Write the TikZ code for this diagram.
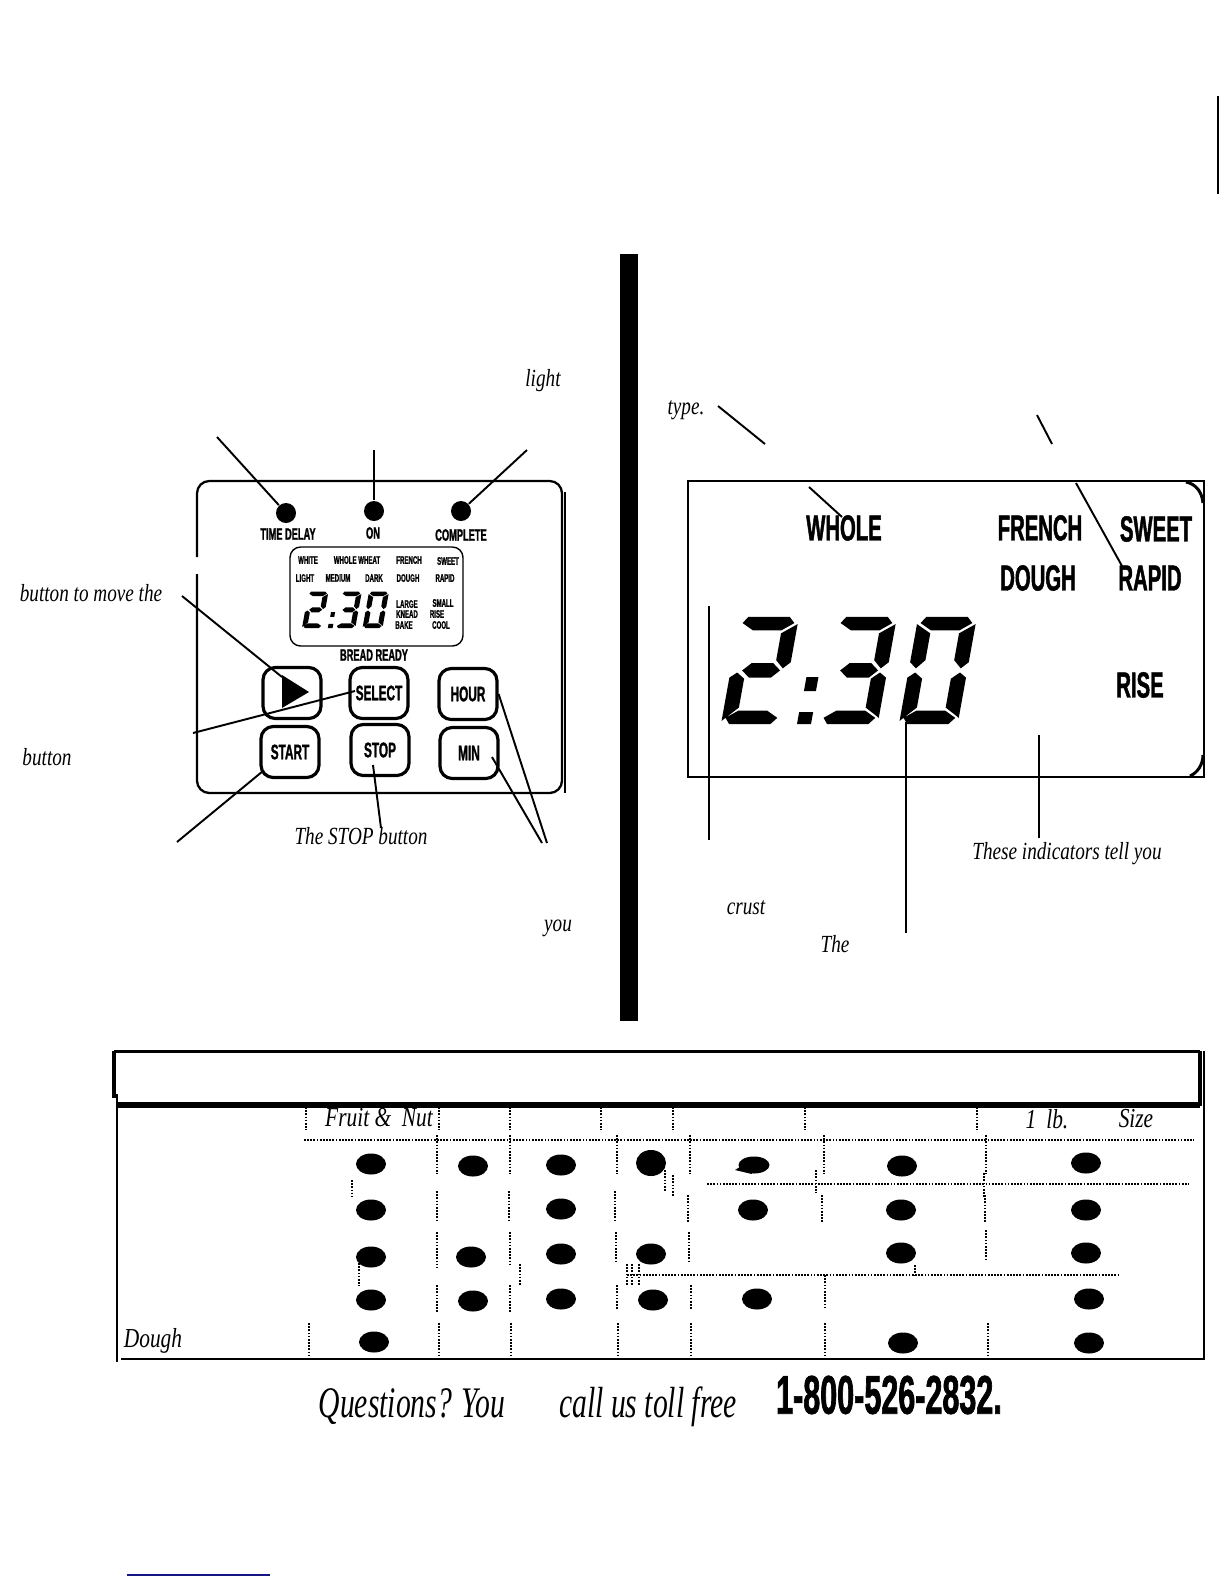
\documentclass[tikz,border=0pt]{standalone}
\usepackage{fontspec}
\setmainfont{Liberation Serif}
\newfontfamily\notefont[FakeStretch=.78]{Liberation Serif}
\newfontfamily\footfont[FakeStretch=.68]{Liberation Serif}
\newfontfamily\panelfont[FakeStretch=.56, BoldFeatures={FakeBold=1.2}]{Liberation Sans}
\usetikzlibrary{shapes.geometric}
\usepackage{xcolor}
\definecolor{footrule}{RGB}{20, 20, 130}

% segments of one clock digit, baseline at y = 0
\newcommand{\segA}{(7,-104) -- (43,-104) -- (48,-98) -- (38,-91) -- (13,-91) -- (3,-98) -- cycle}
\newcommand{\segB}{(51,-97) -- (38,-88) -- (38,-62) -- (45,-54) -- (51,-60) -- cycle}
\newcommand{\segC}{(51,-45) -- (45,-50) -- (38,-44) -- (38,-16) -- (51,-6) -- cycle}
\newcommand{\segD}{(3,-6) -- (13,-13) -- (38,-13) -- (48,-6) -- (43,0) -- (7,0) -- cycle}
\newcommand{\segE}{(0,-45) -- (6,-50) -- (13,-44) -- (13,-16) -- (0,-3) -- cycle}
\newcommand{\segF}{(0,-97) -- (13,-88) -- (13,-62) -- (6,-54) -- (0,-60) -- cycle}
\newcommand{\segG}{(10,-52) -- (17,-59) -- (36,-59) -- (43,-52) -- (36,-45) -- (17,-45) -- cycle}
\newcommand{\digitTwo}{\segA \segB \segG \segE \segD}
\newcommand{\digitThree}{\segA \segB \segG \segC \segD}
\newcommand{\digitZero}{\segA \segB \segC \segD \segE \segF}

\tikzset{
  pics/clock/.style={code={
    \begin{scope}[xslant=.18]
      \fill[xscale=1.15, yscale=1.03] \digitTwo;
      \fill[shift={(98,0)}, xscale=1.15, yscale=1.03] \digitThree;
      \fill[shift={(178,0)}, xscale=1.15, yscale=1.03] \digitZero;
      \fill (77,-47) rectangle (89,-33);
      \fill (76,-12) rectangle (90,0);
    \end{scope}
  }}
}

\begin{document}
\begin{tikzpicture}[x=.01cm, y=-.01cm,
    note/.style={font=\notefont\itshape\fontsize{7}{8}\selectfont, inner sep=0pt},
    tablehead/.style={font=\notefont\itshape\fontsize{7.8}{8}\selectfont, inner sep=0pt},
    bigtext/.style={font=\footfont\itshape\fontsize{12.4}{13}\selectfont, inner sep=0pt},
    lcdword/.style={font=\panelfont\bfseries\fontsize{10.3}{11}\selectfont, inner sep=0pt},
    paneltag/.style={font=\panelfont\bfseries\fontsize{4.7}{5}\selectfont, inner sep=0pt},
    tinytag/.style={font=\panelfont\bfseries\fontsize{3.1}{3.2}\selectfont, inner sep=0pt},
    keybtn/.style={draw, line width=.9pt, rounded corners=3.5pt, minimum width=.58cm, minimum height=.51cm,
      inner sep=0pt, font=\panelfont\bfseries\fontsize{6}{7}\selectfont},
    led/.style={circle, fill=black, minimum size=.2cm, inner sep=0pt},
    blob/.style={ellipse, fill=black, minimum width=.3cm, minimum height=.21cm, inner sep=0pt},
    leader/.style={line width=.55pt},
    panelline/.style={line width=.65pt},
    tabledots/.style={line width=.7pt, dash pattern=on .5pt off .4pt}]
  \useasboundingbox (0,0) rectangle (1224,1584);

  % margin bar and middle bar
  \coordinate (barTop) at (1218,96);
  \coordinate (barEnd) at (1218,194);
  \draw[line width=.6pt] (barTop) -- (barEnd);
  \fill (620,254) rectangle (638,1021);

  % control panel
  \draw[panelline, rounded corners=3.5pt] (197,557) -- (197,481) -- (562,481) -- (562,793) -- (197,793) -- (197,574);
  \draw[panelline] (565,492) -- (565,793);

  \node[led] (ledDelay) at (286,513) {};
  \node[led] (ledOn) at (374,511) {};
  \node[led] (ledDone) at (461,511) {};
  \node[paneltag] (tagDelay) at (288,534) {TIME DELAY};
  \node[paneltag] (tagOn) at (373,533) {ON};
  \node[paneltag] (tagDone) at (461,535) {COMPLETE};

  % small display
  \draw[line width=.4pt, rounded corners=3pt] (290,547) rectangle (463,646);
  \node[tinytag] (miniWhite) at (308,560) {WHITE};
  \node[tinytag] (miniWheat) at (357,560) {WHOLE WHEAT};
  \node[tinytag] (miniFrench) at (409,560) {FRENCH};
  \node[tinytag] (miniSweet) at (448,561) {SWEET};
  \node[tinytag] (miniLight) at (305,578) {LIGHT};
  \node[tinytag] (miniMedium) at (338,578) {MEDIUM};
  \node[tinytag] (miniDark) at (374,578) {DARK};
  \node[tinytag] (miniDough) at (408,578) {DOUGH};
  \node[tinytag] (miniRapid) at (445,578) {RAPID};
  \node[tinytag] (miniLarge) at (407,604) {LARGE};
  \node[tinytag] (miniKnead) at (407,614) {KNEAD};
  \node[tinytag] (miniBake) at (404,625) {BAKE};
  \node[tinytag] (miniSmall) at (443,603) {SMALL};
  \node[tinytag] (miniRise) at (437,614) {RISE};
  \node[tinytag] (miniCool) at (441,625) {COOL};
  \pic[scale=.34] (miniClock) at (302,628) {clock};
  \node[paneltag] (tagReady) at (374,655) {BREAD READY};

  % buttons
  \node[keybtn] (btnArrow) at (292,693) {};
  \fill (282,675) -- (309,692) -- (282,708) -- cycle;
  \node[keybtn] (btnSelect) at (379,693) {SELECT};
  \node[keybtn] (btnHour) at (468,694) {HOUR};
  \node[keybtn] (btnStart) at (290,752) {START};
  \node[keybtn] (btnStop) at (380,750) {STOP};
  \node[keybtn] (btnMin) at (469,753) {MIN};

  % leaders of the panel
  \coordinate (endDelay) at (217,437);
  \coordinate (endOn) at (374,450);
  \coordinate (endDone) at (527,450);
  \coordinate (endArrow) at (182,596);
  \coordinate (tipArrow) at (282,677);
  \coordinate (endSelect) at (193,733);
  \coordinate (tipSelect) at (355,691);
  \coordinate (endStart) at (177,842);
  \coordinate (tipStart) at (263,771);
  \coordinate (endStop) at (381,828);
  \coordinate (tipStop) at (373,765);
  \coordinate (endHour) at (547,843);
  \coordinate (endMin) at (542,843);
  \coordinate (tipMin) at (492,757);
  \draw[leader] (endDelay) -- (ledDelay);
  \draw[leader] (endOn) -- (ledOn);
  \draw[leader] (endDone) -- (ledDone);
  \draw[leader] (endArrow) -- (tipArrow);
  \draw[leader] (endSelect) -- (tipSelect);
  \draw[leader] (endStart) -- (tipStart);
  \draw[leader] (endStop) -- (tipStop);
  \draw[leader] (endHour) -- (btnHour.east);
  \draw[leader] (endMin) -- (tipMin);

  % notes on the left side
  \node[note] (noteLight) at (543,381) {light};
  \node[note] (noteMove) at (91,593) {button to move the};
  \node[note] (noteButton) at (47,757) {button};
  \node[note] (noteStop) at (361,836) {The STOP button};
  \node[note] (noteYou) at (558,928) {you};

  % large display
  \draw[line width=.55pt] (688,481) rectangle (1204,777);
  \draw[line width=.85pt] (1186,482) .. controls (1196,484) and (1202,492) .. (1203,503);
  \draw[line width=.85pt] (1203,755) .. controls (1203,765) and (1197,773) .. (1190,776);
  \node[lcdword] (wordWhole) at (844,528) {WHOLE};
  \node[lcdword] (wordFrench) at (1040,528) {FRENCH};
  \node[lcdword] (wordSweet) at (1156,529) {SWEET};
  \node[lcdword] (wordDough) at (1038,578) {DOUGH};
  \node[lcdword] (wordRapid) at (1150,578) {RAPID};
  \node[lcdword] (wordRise) at (1140,685) {RISE};
  \pic (bigClock) at (721,724) {clock};

  % leaders of the display
  \coordinate (endType) at (718,406);
  \coordinate (midType) at (765,444);
  \coordinate (endRight) at (1037,415);
  \coordinate (midRight) at (1052,444);
  \coordinate (topWhole) at (809,487);
  \coordinate (tipWhole) at (842,517);
  \coordinate (topRapid) at (1076,483);
  \coordinate (tipRapid) at (1122,566);
  \coordinate (topCrust) at (709,606);
  \coordinate (endCrust) at (709,840);
  \coordinate (topTime) at (906,722);
  \coordinate (endTime) at (906,933);
  \coordinate (topIndic) at (1039,735);
  \coordinate (endIndic) at (1039,838);
  \draw[leader] (endType) -- (midType);
  \draw[leader] (endRight) -- (midRight);
  \draw[leader] (topWhole) -- (tipWhole);
  \draw[leader] (topRapid) -- (tipRapid);
  \draw[leader] (topCrust) -- (endCrust);
  \draw[leader] (topTime) -- (endTime);
  \draw[leader] (topIndic) -- (endIndic);

  % notes on the right side
  \node[note] (noteType) at (686,410) {type.};
  \node[note] (noteIndic) at (1067,854) {These indicators tell you};
  \node[note] (noteCrust) at (746,908) {crust};
  \node[note] (noteThe) at (835,944) {The};

  % table frame
  \draw[line width=.85pt] (114,1051) -- (1200,1051);
  \draw[line width=1.1pt] (114,1051) -- (114,1098);
  \draw[line width=1.5pt] (117,1105) -- (1200,1105);
  \draw[line width=1pt] (1200,1051) -- (1200,1106);
  \draw[line width=.6pt] (1204,1051) -- (1204,1359) -- (121,1359);
  \draw[line width=.6pt] (117,1094) -- (117,1362);

  % table heads
  \node[tablehead] (headFruit) at (379,1118) {Fruit \&\ \ Nut};
  \node[tablehead] (headLb) at (1047,1119) {1 \,lb.};
  \node[tablehead] (headSize) at (1136,1119) {Size};
  \node[tablehead] (rowDough) at (153,1341) {Dough};

  % dotted rules
  \draw[tabledots] (304,1140) -- (1194,1140);
  \draw[tabledots] (707,1184) -- (1189,1184);
  \draw[tabledots] (627,1275) -- (1120,1275);
  \draw[tabledots] (306,1107) -- (306,1130) (439,1107) -- (439,1130) (510,1107) -- (510,1130)
    (601,1107) -- (601,1130) (673,1107) -- (673,1130) (805,1107) -- (805,1130) (977,1107) -- (977,1130);
  \draw[tabledots] (437,1135) -- (437,1174) (510,1135) -- (510,1174) (617,1135) -- (617,1174)
    (690,1135) -- (690,1174) (824,1135) -- (824,1174) (986,1135) -- (986,1174);
  \draw[tabledots] (352,1180) -- (352,1197) (665,1170) -- (665,1192) (673,1175) -- (673,1197)
    (816,1170) -- (816,1193) (984,1173) -- (984,1197);
  \draw[tabledots] (437,1191) -- (437,1222) (509,1191) -- (509,1222) (615,1191) -- (615,1222)
    (688,1195) -- (688,1222) (822,1195) -- (822,1222) (985,1195) -- (985,1222);
  \draw[tabledots] (437,1232) -- (437,1267) (510,1232) -- (510,1265) (616,1232) -- (616,1262)
    (689,1232) -- (689,1262) (986,1230) -- (986,1260);
  \draw[tabledots] (359,1263) -- (359,1286) (520,1264) -- (520,1285) (627,1264) -- (627,1285)
    (632,1264) -- (632,1285) (639,1264) -- (639,1285) (915,1265) -- (915,1277);
  \draw[tabledots] (437,1285) -- (437,1313) (510,1285) -- (510,1313) (617,1285) -- (617,1310)
    (691,1285) -- (691,1310) (825,1275) -- (825,1309);
  \draw[tabledots] (309,1323) -- (309,1357) (439,1323) -- (439,1357) (511,1323) -- (511,1357)
    (618,1323) -- (618,1357) (691,1323) -- (691,1357) (825,1323) -- (825,1357) (988,1323) -- (988,1357);

  % table marks
  \node[blob] (a1) at (371,1164) {};
  \node[blob] (a2) at (371,1210) {};
  \node[blob] (a3) at (371,1257) {};
  \node[blob] (a4) at (371,1300) {};
  \node[blob] (a5) at (374,1342) {};
  \node[blob] (b1) at (473,1166) {};
  \node[blob] (b3) at (471,1257) {};
  \node[blob] (b4) at (473,1301) {};
  \node[blob] (c1) at (561,1165) {};
  \node[blob] (c2) at (561,1209) {};
  \node[blob] (c3) at (561,1254) {};
  \node[blob] (c4) at (561,1299) {};
  \node[blob, minimum height=.26cm] (d1) at (651,1163) {};
  \node[blob] (d3) at (651,1254) {};
  \node[blob] (d4) at (653,1300) {};
  \node[blob, minimum width=.31cm, minimum height=.17cm] (e1) at (754,1165) {};
  \fill (735,1170) -- (748,1162) -- (752,1174) -- cycle;
  \node[blob] (e2) at (753,1210) {};
  \node[blob] (e4) at (757,1299) {};
  \node[blob] (f1) at (902,1166) {};
  \node[blob] (f2) at (901,1210) {};
  \node[blob] (f3) at (901,1253) {};
  \node[blob] (f5) at (903,1343) {};
  \node[blob] (g1) at (1086,1163) {};
  \node[blob] (g2) at (1086,1210) {};
  \node[blob] (g3) at (1086,1253) {};
  \node[blob] (g4) at (1089,1299) {};
  \node[blob] (g5) at (1089,1343) {};

  % footer
  \node[bigtext] (footAsk) at (412,1407) {Questions? You};
  \node[bigtext] (footCall) at (648,1407) {call us toll free};
  \node[font=\panelfont\bfseries\fontsize{15.5}{16}\selectfont, inner sep=0pt] (footPhone) at (889,1395) {1-800-526-2832.};
  \draw[footrule, line width=.5pt] (127,1575) -- (270,1575);
\end{tikzpicture}
\end{document}
